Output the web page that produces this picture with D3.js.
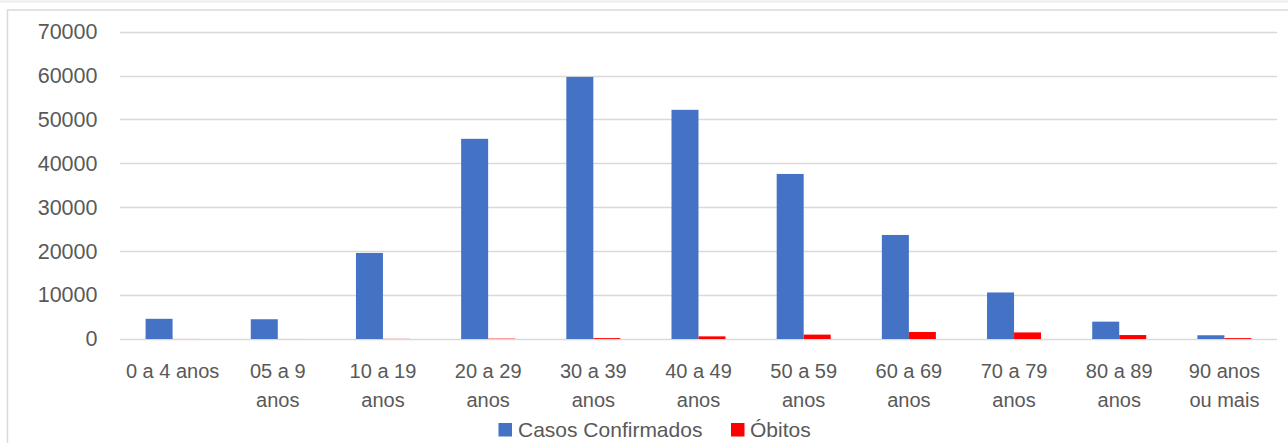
<!DOCTYPE html>
<html>
<head>
<meta charset="utf-8">
<script src="https://cdn.jsdelivr.net/npm/d3@7"></script>
<style>
  html, body { margin: 0; padding: 0; background: #ffffff; }
  svg { display: block; font-family: "Liberation Sans", Arial, sans-serif; }
  .tick-label { fill: #595959; font-size: 20px; }
  .y-label { fill: #595959; font-size: 21.5px; }
  .legend-label { fill: #595959; font-size: 21px; }
</style>
</head>
<body>
<div id="chart"></div>
<script>
// Casos confirmados e óbitos por faixa etária

const categories = ["0-4", "5-9", "10-19", "20-29", "30-39", "40-49", "50-59", "60-69", "70-79", "80-89", "90+"];
const categoryLabels = [
  ["0 a 4 anos"],
  ["05 a 9", "anos"],
  ["10 a 19", "anos"],
  ["20 a 29", "anos"],
  ["30 a 39", "anos"],
  ["40 a 49", "anos"],
  ["50 a 59", "anos"],
  ["60 a 69", "anos"],
  ["70 a 79", "anos"],
  ["80 a 89", "anos"],
  ["90 anos", "ou mais"]
];
const seriesNames = ["Casos Confirmados", "Óbitos"];
const casosConfirmados = [4600, 4500, 19600, 45600, 59700, 52200, 37600, 23700, 10600, 3950, 850];
const obitos = [10, 5, 30, 80, 200, 600, 1000, 1600, 1500, 900, 200];
const yTicks = [0, 10000, 20000, 30000, 40000, 50000, 60000, 70000];

(function drawChart() {
  "use strict";

  const width = 1288;
  const height = 443;
  const plot = { left: 120, right: 1277, top: 31.7, bottom: 339 };
  const colors = { "Casos Confirmados": "#4472C4", "Óbitos": "#FF0000" };
  const gridColor = "#d9d9d9";

  const svg = d3.select("#chart")
    .append("svg")
    .attr("width", width)
    .attr("height", height);

  // faint strip at the very top and the chart frame
  svg.append("line")
    .attr("x1", 0).attr("x2", width)
    .attr("y1", 1.5).attr("y2", 1.5)
    .attr("stroke", "#ececec").attr("stroke-width", 2);

  svg.append("rect")
    .attr("x", 7.5).attr("y", 10)
    .attr("width", width + 10).attr("height", height + 10)
    .attr("fill", "#ffffff")
    .attr("stroke", gridColor)
    .attr("stroke-width", 1.5);

  const x0 = d3.scaleBand()
    .domain(categories)
    .range([plot.left, plot.right])
    .paddingInner(0)
    .paddingOuter(0);

  const x1 = d3.scaleBand()
    .domain(seriesNames)
    .range([0, x0.bandwidth()])
    .paddingInner(0)
    .paddingOuter(0.948);

  const y = d3.scaleLinear()
    .domain([0, 70000])
    .range([plot.bottom, plot.top]);

  // gridlines
  svg.append("g")
    .selectAll("line")
    .data(yTicks)
    .enter()
    .append("line")
    .attr("x1", plot.left)
    .attr("x2", plot.right)
    .attr("y1", function (d) { return Math.round(y(d)) + 0.5; })
    .attr("y2", function (d) { return Math.round(y(d)) + 0.5; })
    .attr("stroke", gridColor)
    .attr("stroke-width", 1.5);

  // y axis labels
  const yAxis = svg.append("g")
    .attr("transform", "translate(" + (plot.left - 22.5) + ",0)")
    .call(d3.axisLeft(y).tickValues(yTicks).tickSize(0).tickPadding(0).tickFormat(d3.format("d")));
  yAxis.select(".domain").remove();
  yAxis.selectAll("text")
    .attr("class", "y-label")
    .attr("fill", null)
    .attr("font-family", null)
    .attr("font-size", null);

  // bars
  const groups = svg.append("g")
    .selectAll("g")
    .data(categories)
    .enter()
    .append("g")
    .attr("transform", function (d) { return "translate(" + x0(d) + ",0)"; });

  groups.selectAll("rect")
    .data(function (d, i) {
      return [
        { series: "Casos Confirmados", value: casosConfirmados[i] },
        { series: "Óbitos", value: obitos[i] }
      ];
    })
    .enter()
    .append("rect")
    .attr("x", function (d) { return x1(d.series); })
    .attr("y", function (d) { return y(d.value); })
    .attr("width", x1.bandwidth())
    .attr("height", function (d) { return y(0) - y(d.value); })
    .attr("fill", function (d) { return colors[d.series]; });

  // x axis labels (wrapped on two lines)
  const xAxis = svg.append("g")
    .attr("transform", "translate(0," + plot.bottom + ")")
    .call(d3.axisBottom(x0).tickSize(0).tickPadding(0).tickFormat(""));
  xAxis.select(".domain").remove();
  xAxis.selectAll(".tick text").remove();
  xAxis.selectAll(".tick").each(function (d, i) {
    const text = d3.select(this).append("text")
      .attr("class", "tick-label")
      .attr("text-anchor", "middle");
    categoryLabels[i].forEach(function (line, j) {
      text.append("tspan")
        .attr("x", 0)
        .attr("y", 39 + j * 29)
        .text(line);
    });
  });

  // legend
  const legendItems = [
    { name: seriesNames[0], box: 498.5, text: 518 },
    { name: seriesNames[1], box: 731, text: 750 }
  ];
  const legend = svg.append("g");
  legend.selectAll("rect")
    .data(legendItems)
    .enter()
    .append("rect")
    .attr("x", function (d) { return d.box; })
    .attr("y", 423)
    .attr("width", 13.5)
    .attr("height", 13.5)
    .attr("fill", function (d) { return colors[d.name]; });
  legend.selectAll("text")
    .data(legendItems)
    .enter()
    .append("text")
    .attr("class", "legend-label")
    .attr("x", function (d) { return d.text; })
    .attr("y", 437)
    .text(function (d) { return d.name; });
})();
</script>
</body>
</html>
